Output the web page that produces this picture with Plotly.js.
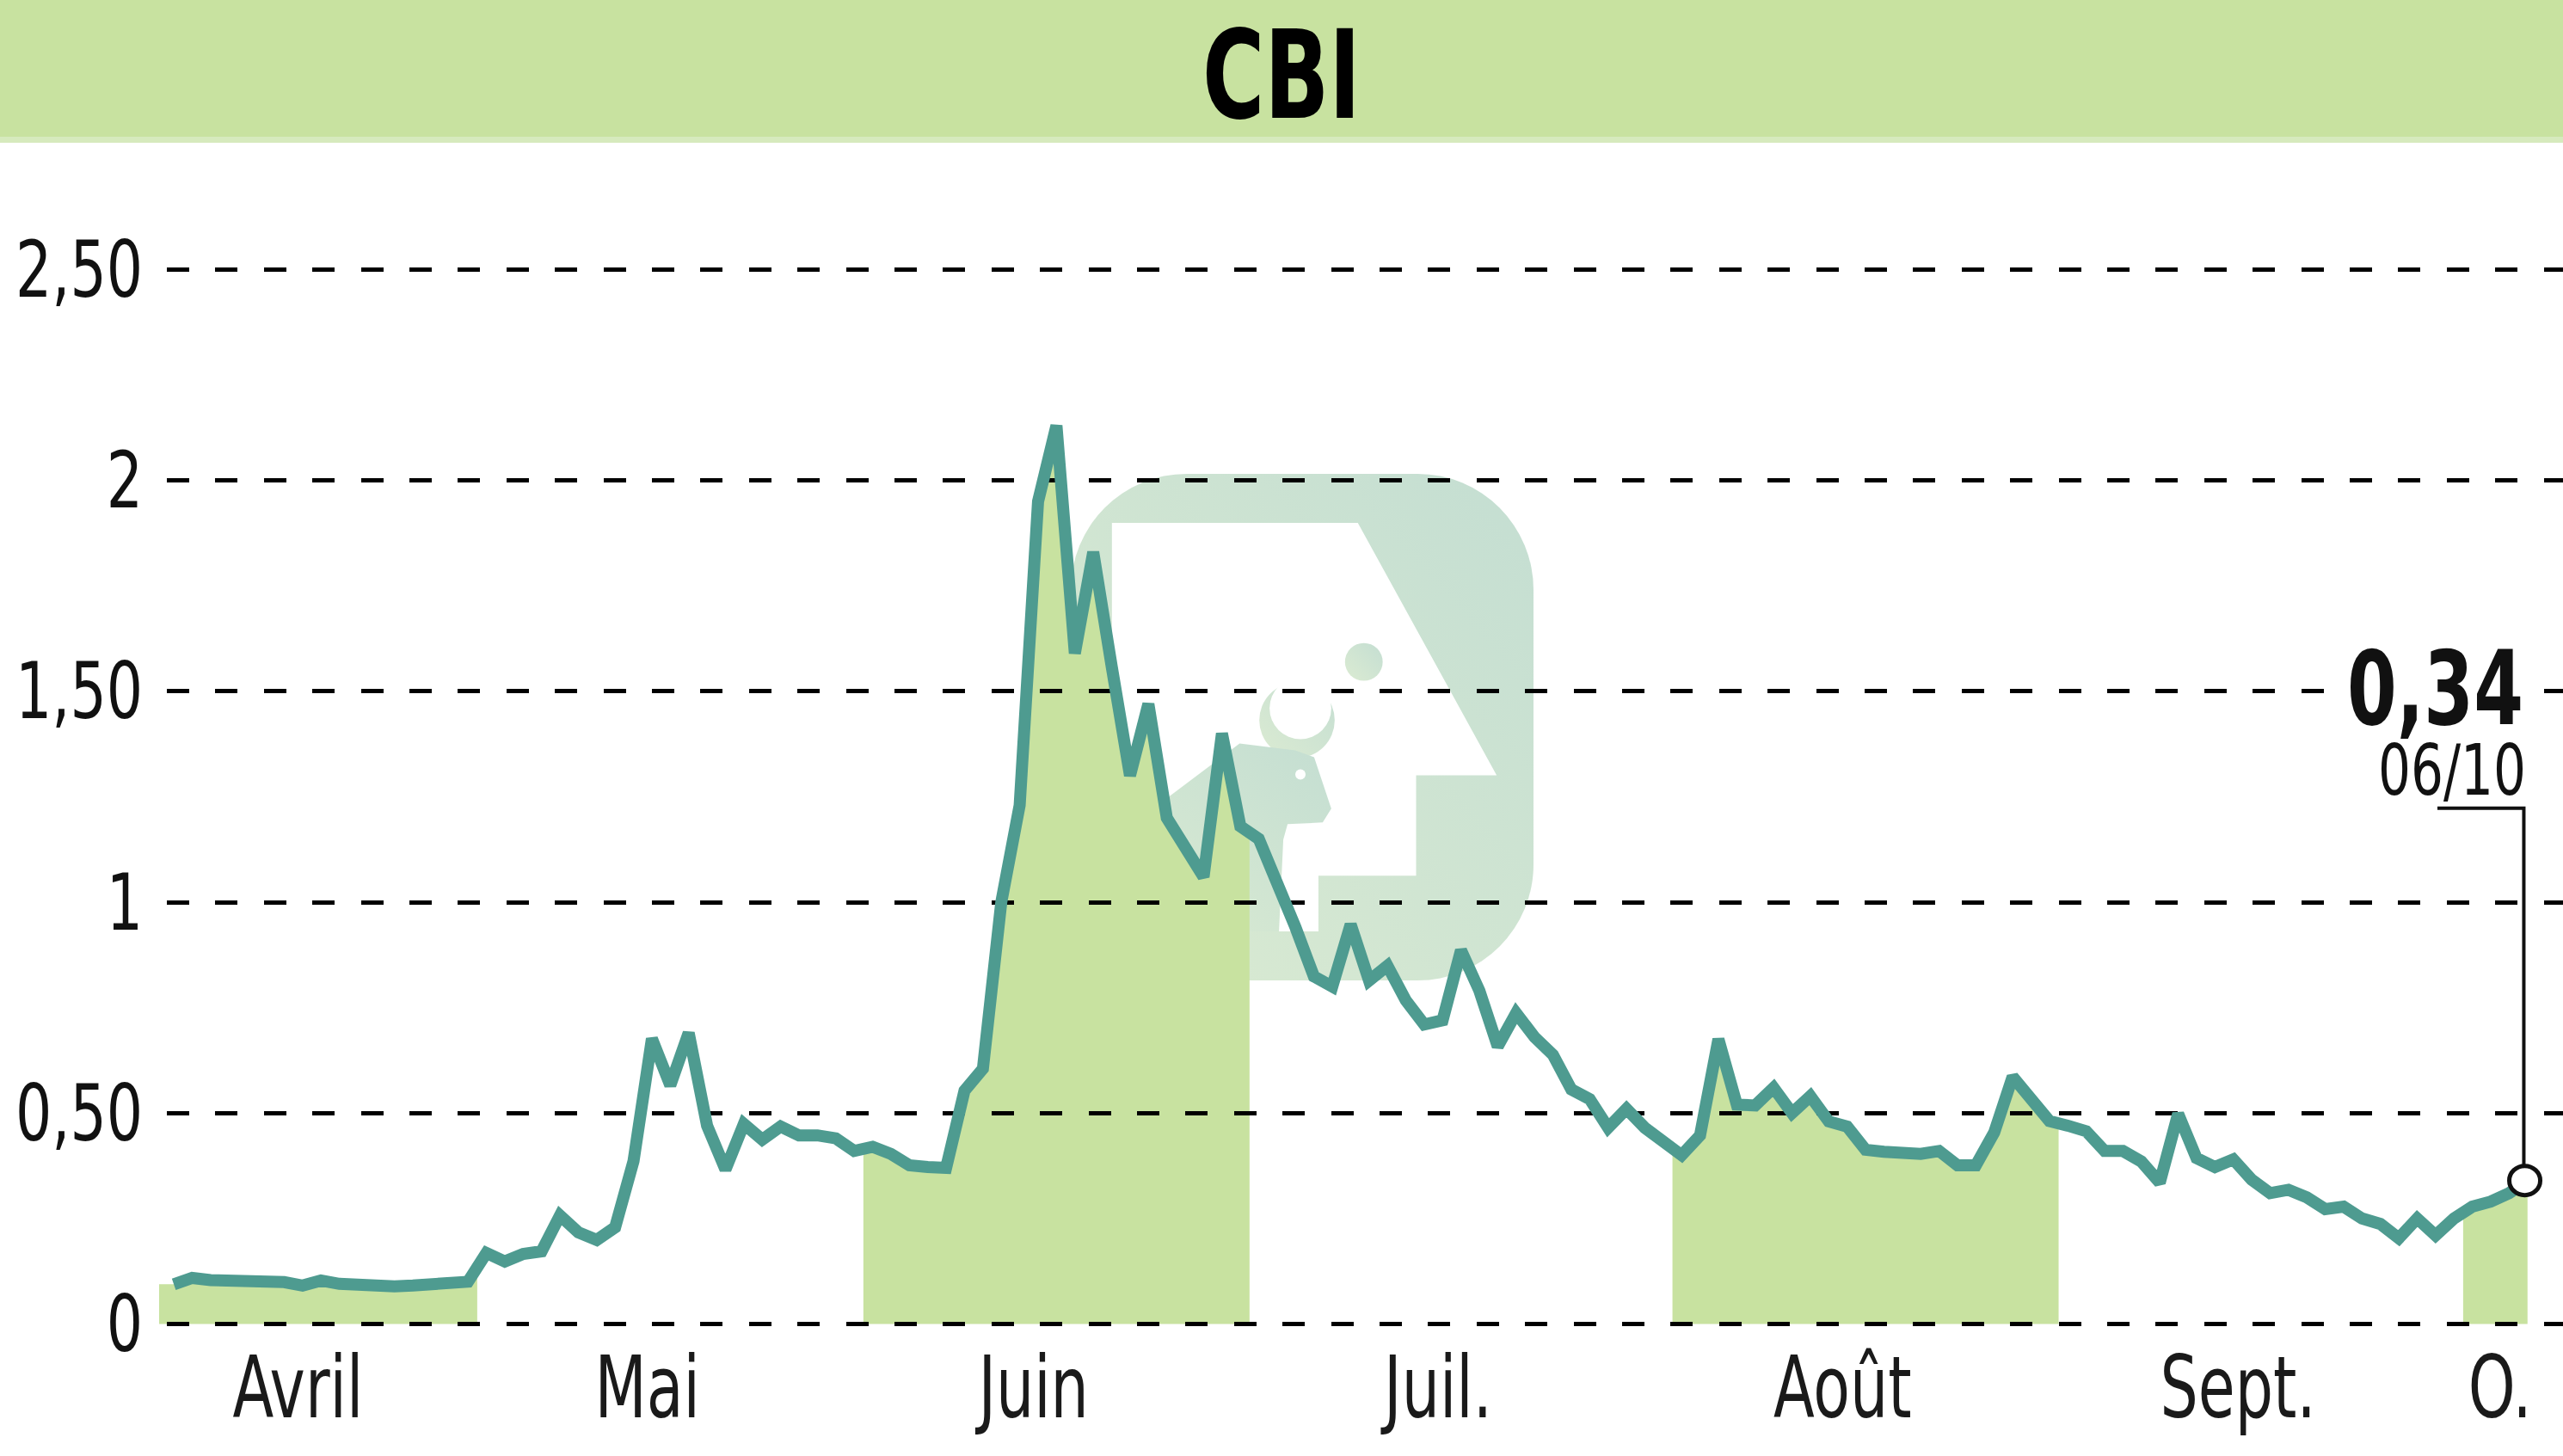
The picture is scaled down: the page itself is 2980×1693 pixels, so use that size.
<!DOCTYPE html>
<html>
<head>
<meta charset="utf-8">
<script src="https://cdn.plot.ly/plotly-3.0.1.min.js"></script>
<style>
  html, body { margin: 0; padding: 0; background: #ffffff; }
  #chart { width: 2980px; height: 1693px; }
</style>
</head>
<body>
<div id="chart"></div>
<script>
// ---------------- data ----------------
const stockName = 'CBI';
const monthLabels = ['Avril', 'Mai', 'Juin', 'Juil.', 'Août', 'Sept.', 'O.'];
const monthDayCounts = [17, 21, 21, 23, 21, 22, 4];   // trading days shown per month
const lastDateLabel = '06/10';
const prices = [
  // Avril
  0.094, 0.109, 0.104, 0.104, 0.102, 0.104, 0.099, 0.091, 0.103, 0.095, 0.091, 0.089, 0.089, 0.091, 0.094, 0.090, 0.100,
  // Mai
  0.168, 0.148, 0.166, 0.172, 0.257, 0.217, 0.199, 0.229, 0.386, 0.676, 0.566, 0.690, 0.470, 0.366, 0.474, 0.437, 0.468, 0.447, 0.447, 0.440, 0.410,
  // Juin
  0.420, 0.403, 0.376, 0.372, 0.370, 0.553, 0.605, 1.000, 1.230, 1.950, 2.130, 1.590, 1.830, 1.560, 1.300, 1.470, 1.200, 1.130, 1.060, 1.400, 1.180,
  // Juillet
  1.150, 1.050, 0.940, 0.824, 0.800, 0.947, 0.814, 0.849, 0.767, 0.710, 0.720, 0.886, 0.790, 0.658, 0.737, 0.680, 0.638, 0.556, 0.533, 0.465, 0.510, 0.465, 0.428,
  // Août
  0.400, 0.447, 0.675, 0.520, 0.518, 0.560, 0.500, 0.540, 0.480, 0.468, 0.413, 0.408, 0.402, 0.403, 0.410, 0.376, 0.376, 0.454, 0.586, 0.528, 0.481,
  // Septembre
  0.470, 0.457, 0.410, 0.410, 0.385, 0.335, 0.498, 0.393, 0.372, 0.390, 0.342, 0.310, 0.318, 0.300, 0.272, 0.278, 0.250, 0.237, 0.203, 0.250, 0.210, 0.250,
  // Octobre
  0.278, 0.290, 0.310, 0.340
];
const yTickValues = [0, 0.5, 1, 1.5, 2, 2.5];
const yTickLabels = ['0', '0,50', '1', '1,50', '2', '2,50'];

// ---------------- fonts (pick the narrowest installed family) ----------------
const ctx = document.createElement('canvas').getContext('2d');
function hasFont(name) {
  const s = '2,50 Avril Juil. Août 0123456789 CBI';
  ctx.font = '100px monospace';
  const w0 = ctx.measureText(s).width;
  ctx.font = `100px '${name}', monospace`;
  return Math.abs(ctx.measureText(s).width - w0) > 0.5;
}
const fontCandidates = ['Noto Sans Condensed', 'Liberation Sans Narrow', 'Noto Sans ExtraCondensed', 'DejaVu Sans Condensed', 'Liberation Sans'];
const FONT_NAME = fontCandidates.find(hasFont) || 'sans-serif';
const NARROW = `'${FONT_NAME}', sans-serif`;
// font size so that a sample string has the reference's width
function sizeFor(sample, targetW, maxSize, bold) {
  ctx.font = `${bold ? 'bold ' : ''}100px ${NARROW}`;
  const w = ctx.measureText(sample).width;
  return Math.min(maxSize, 100 * targetW / w);
}
function capHeight(size, bold) {
  ctx.font = `${bold ? 'bold ' : ''}${size}px ${NARROW}`;
  return ctx.measureText('H').actualBoundingBoxAscent || size * 0.72;
}
const yTickSize = sizeFor('2,50', 148, 98, false);
const xTickSize = sizeFor('Avril', 152, 104, false);
const titleSize = sizeFor('CBI', 184, 160, true);
const lastValSize = sizeFor('0,34', 205, 126, true);
const lastDateSize = sizeFor('06/10', 172, 86, false);
// vertical stretch factors so the condensed letters reach the reference's cap height
const yTickK = Math.max(1, 67 / capHeight(yTickSize, false));
const xTickK = Math.max(1, 74 / capHeight(xTickSize, false));
const titleK = Math.max(1, 104 / capHeight(titleSize, true));
const lastValK = Math.max(1, 88 / capHeight(lastValSize, true));
const lastDateK = Math.max(1, 60 / capHeight(lastDateSize, false));

// ---------------- styles ----------------
const LINE_COLOR = '#4e9b90';
const FILL_COLOR = '#c8e2a0';
const W = 2980, H = 1693;
const M = { l: 185, r: 0, t: 200, b: 148 };
const plotH = H - M.t - M.b;
const plotW = W - M.l - M.r;

// ---------------- derived ----------------
const N = prices.length;
const idx = prices.map((_, i) => i);
const monthStarts = [];
{ let s = 0; monthDayCounts.forEach(c => { monthStarts.push(s); s += c; }); }

function valueAt(t) {
  if (t <= 0) return prices[0];
  if (t >= N - 1) return prices[N - 1];
  const i0 = Math.floor(t), f = t - i0;
  return prices[i0] * (1 - f) + prices[i0 + 1] * f;
}

const xRange = [-0.8, 129.93];
const yRange = [-(1545 - 1539.4) / 490.4, (1539.4 - 200) / 490.4];
const yPerPx = (yRange[1] - yRange[0]) / plotH;

const shapes = [];

// title band
shapes.push({ type: 'rect', xref: 'paper', yref: 'paper',
  x0: -M.l / plotW, x1: 1 + M.r / plotW,
  y0: 1 + (M.t - 159) / plotH, y1: 1 + M.t / plotH,
  fillcolor: FILL_COLOR, line: { width: 0 }, layer: 'below' });
shapes.push({ type: 'rect', xref: 'paper', yref: 'paper',
  x0: -M.l / plotW, x1: 1 + M.r / plotW,
  y0: 1 + (M.t - 166) / plotH, y1: 1 + (M.t - 159) / plotH,
  fillcolor: '#d6eabd', line: { width: 0 }, layer: 'below' });

// alternate-month area fills (under the gridlines)
monthDayCounts.forEach((c, m) => {
  if (m % 2 === 1) return;
  const a = monthStarts[m], b = a + c - 1;
  const left = (a === 0) ? xRange[0] : a - 0.5;
  const right = (b === N - 1) ? b : b + 0.5;
  let d = `M${left},0 L${left},${valueAt(left)}`;
  for (let i = a; i <= b; i++) d += ` L${i},${prices[i]}`;
  d += ` L${right},${valueAt(right)} L${right},0 Z`;
  shapes.push({ type: 'path', xref: 'x', yref: 'y', path: d,
    fillcolor: FILL_COLOR, line: { width: 0 }, layer: 'below' });
});

// last value marker + connector
const lastI = N - 1, lastV = prices[N - 1];
const connY = 1.5 - 136 * yPerPx;
shapes.push({ type: 'path', xref: 'x', yref: 'y',
  path: `M${lastI - 4.9},${connY} L${lastI - 0.2},${connY} L${lastI - 0.2},${lastV}`,
  line: { color: '#111', width: 4 }, layer: 'above' });
shapes.push({ type: 'circle', xref: 'x', yref: 'y', xsizemode: 'pixel', ysizemode: 'pixel',
  xanchor: lastI - 0.15, yanchor: lastV, x0: -18, x1: 18, y0: -17, y1: 17,
  fillcolor: '#ffffff', line: { color: '#111', width: 5 }, layer: 'above' });

const fmt = v => v.toFixed(2).replace('.', ',');

// month label positions (centre of each month's trading days, full months nudged left)
const monthTickVals = monthDayCounts.map((c, m) =>
  monthStarts[m] + (c - 1) / 2 - (m === monthDayCounts.length - 1 ? 0 : 1.25));

// watermark logo (decoration)
const logoSvg =
  "<svg xmlns='http://www.w3.org/2000/svg' viewBox='0 0 540 590' preserveAspectRatio='none'>" +
  "<defs><linearGradient id='g' x1='0' y1='1' x2='1' y2='0'>" +
  "<stop offset='0' stop-color='#dbebd2'/><stop offset='1' stop-color='#c4ded2'/></linearGradient></defs>" +
  "<rect x='0' y='0' width='540' height='590' rx='135' ry='135' fill='url(#g)'/>" +
  "<polygon points='48,57 335,57 497,351 403,351 403,468 289,468 289,533 48,533' fill='#ffffff'/>" +
  "<circle cx='264' cy='287' r='44' fill='url(#g)'/>" +
  "<circle cx='268' cy='273' r='36' fill='#ffffff'/>" +
  "<polygon points='48,426 120,372 197,314 262,322 284,330 304,390 294,406 253,408 248,426 243,533 48,533' fill='url(#g)'/>" +
  "<circle cx='342' cy='219' r='22' fill='url(#g)'/>" +
  "<circle cx='268' cy='350' r='6' fill='#ffffff'/>" +
  "</svg>";
const logoSrc = 'data:image/svg+xml;charset=utf-8,' + encodeURIComponent(logoSvg);

const traces = [{
  type: 'scatter', mode: 'lines', x: idx, y: prices,
  line: { color: LINE_COLOR, width: 14 }, hoverinfo: 'skip', showlegend: false
}];

const layout = {
  width: W, height: H,
  margin: M,
  paper_bgcolor: '#ffffff',
  plot_bgcolor: 'rgba(0,0,0,0)',
  showlegend: false,
  title: {
    text: stockName, x: 0.5, xanchor: 'center', xref: 'container',
    y: 1 - 87 / H, yanchor: 'middle', yref: 'container',
    font: { family: NARROW, size: titleSize, color: '#000', weight: 700 }
  },
  xaxis: {
    range: xRange, showgrid: false, zeroline: false, showline: false, ticks: '',
    tickmode: 'array', tickvals: monthTickVals, ticktext: monthLabels,
    tickfont: { family: NARROW, size: xTickSize, color: '#1a1a1a' },
    ticklabelstandoff: 17, fixedrange: true
  },
  yaxis: {
    range: yRange, zeroline: false, showline: false, ticks: '',
    tickmode: 'array', tickvals: yTickValues, ticktext: yTickLabels,
    showgrid: true, gridcolor: '#000000', gridwidth: 5, griddash: '0px,9px,26px,21.4px',
    tickfont: { family: NARROW, size: yTickSize, color: '#111' },
    ticklabelstandoff: 18, fixedrange: true
  },
  shapes: shapes,
  images: [{
    source: logoSrc, xref: 'paper', yref: 'paper',
    x: (1245 - M.l) / plotW, y: (H - M.b - 551) / plotH,
    sizex: 538 / plotW, sizey: 589 / plotH,
    xanchor: 'left', yanchor: 'top', sizing: 'stretch', layer: 'below', opacity: 1
  }],
  annotations: [
    {
      text: fmt(lastV), xref: 'x', yref: 'y', x: lastI, y: 1.5,
      xanchor: 'right', yanchor: 'middle', xshift: 0, yshift: 3,
      showarrow: false, bgcolor: '#ffffff', borderpad: 4,
      font: { family: NARROW, size: lastValSize, color: '#111', weight: 700 }
    },
    {
      text: lastDateLabel, xref: 'x', yref: 'y', x: lastI, y: 1.5,
      xanchor: 'right', yanchor: 'middle', xshift: 0, yshift: -92,
      showarrow: false,
      font: { family: NARROW, size: lastDateSize, color: '#111' }
    }
  ]
};

// stretch text vertically around its own centre (keeps it real SVG text)
function stretchY(selector, k) {
  if (!(k > 1.001)) return;
  document.querySelectorAll(selector).forEach(el => {
    const bb = el.getBBox();
    const cy = bb.y + bb.height / 2;
    const t = el.getAttribute('transform') || '';
    el.setAttribute('transform', `${t} translate(0,${cy}) scale(1,${k}) translate(0,${-cy})`);
  });
}

Plotly.newPlot('chart', traces, layout, { staticPlot: true, displayModeBar: false }).then(() => {
  stretchY('#chart .gtitle', titleK);
  stretchY('#chart .ytick text', yTickK);
  stretchY('#chart .xtick text', xTickK);
  const annTexts = document.querySelectorAll('#chart .annotation-text');
  if (annTexts[0]) {
    annTexts[0].classList.add('ann-last-val');
    stretchY('#chart .ann-last-val', lastValK);
  }
  if (annTexts[1]) {
    annTexts[1].classList.add('ann-last-date');
    stretchY('#chart .ann-last-date', lastDateK);
  }
});
</script>
</body>
</html>
